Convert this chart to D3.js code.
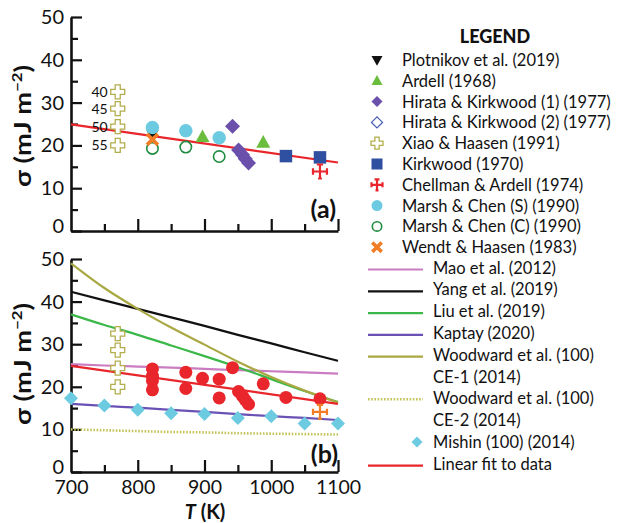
<!DOCTYPE html>
<html><head><meta charset="utf-8">
<script src="https://cdn.jsdelivr.net/npm/d3@7"></script>
<style>body{margin:0;background:#fff} svg{display:block} text{font-family:Lato,"Open Sans",sans-serif;fill:#111}</style>
</head><body><svg id="c" width="633" height="523"></svg>
<script>
// ---------- data ----------
const plotnikov = [[822,22.5]];
const ardell    = [[897,22.0],[988,20.7]];
const hirata1   = [[942,24.5],[951,18.9],[957,17.8],[961,16.9],[966,15.9]];
const hirata2   = [];
const xiao      = [[770,32.5],[770,28.6],[770,24.4],[770,20.0]];
const xiaoLabels = ["40","45","50","55"];
const kirkwood  = [[1022,17.5],[1073,17.2]];
const chellman  = [[1073,13.9]];
const marshS    = [[822,24.2],[872,23.4],[922,21.8]];
const marshC    = [[822,19.3],[872,19.6],[922,17.4]];
const wendt     = [[822,21.4]];

const modelT = [700,750,800,850,900,950,1000,1050,1100];
const mao    = [25.3,25.0,24.75,24.5,24.2,23.9,23.65,23.4,23.1];
const yang   = [42.3,40.3,38.3,36.3,34.3,32.2,30.2,28.1,26.1];
const liu    = [37.0,34.5,32.2,29.7,27.2,24.6,21.8,19.0,16.4];
const kaptay = [16.0,15.5,15.1,14.6,14.1,13.6,13.1,12.7,12.2];
const ce1    = [49.0,43.2,38.3,33.9,29.9,25.9,22.3,19.1,16.3];
const ce2    = [10.0,9.8,9.6,9.4,9.3,9.1,9.0,8.9,8.8];
const mishin = [17.3,15.6,14.6,13.8,13.6,12.7,13.1,11.4,11.4];
const linearFit = [[700,24.9],[1100,16.0]];

const xMajor = [800,900,1000,1100];
const xMinor = [750,850,950,1050];
const xLabels = [700,800,900,1000,1100];
const yMajor = [0,10,20,30,40,50];
const yMinor = [5,15,25,35,45];

const legendTop = [
  ["Plotnikov et al. (2019)","tridown"],["Ardell (1968)","triup"],
  ["Hirata & Kirkwood (1) (1977)","diamond"],["Hirata & Kirkwood (2) (1977)","odiamond"],
  ["Xiao & Haasen (1991)","ocross"],["Kirkwood (1970)","square"],
  ["Chellman & Ardell (1974)","scross"],["Marsh & Chen (S) (1990)","circle"],
  ["Marsh & Chen (C) (1990)","ocircle"],["Wendt & Haasen (1983)","xcross"]];
const legendBottom = [
  ["Mao et al. (2012)","line","#c97cc2"],["Yang et al. (2019)","line","#111"],
  ["Liu et al. (2019)","line","#3cb84a"],["Kaptay (2020)","line","#6a52b4"],
  ["Woodward et al. (100)","line","#a9a842"],["CE-1 (2014)","none",""],
  ["Woodward et al. (100)","dot","#c4c45a"],["CE-2 (2014)","none",""],
  ["Mishin (100) (2014)","mdiamond","#6ccbe0"],["Linear fit to data","line","#e8262b"]];

// ---------- styles ----------
const C = {red:"#e8262b", cyan:"#6ccbe0", tri:"#6bbd3e", purple:"#6a50aa", blue:"#2f4fa0",
  orange:"#f27d27", ogreen:"#1f8c40", olive:"#b3ae4c", black:"#111"};

const svg = d3.select("#c");
const x = d3.scaleLinear().domain([700,1100]).range([71,338]);
const yT = d3.scaleLinear().domain([0,50]).range([231,17]);
const yB = d3.scaleLinear().domain([0,50]).range([472,259]);

function marker(g, type, cx, cy, s, color){
  const h = s/2;
  if(type==="circle"){ g.append("circle").attr("cx",cx).attr("cy",cy).attr("r",h).attr("fill",color); }
  else if(type==="ocircle"){ g.append("circle").attr("cx",cx).attr("cy",cy).attr("r",h-0.8).attr("fill","#fff").attr("stroke",color).attr("stroke-width",1.6); }
  else if(type==="triup"){ g.append("path").attr("d",`M${cx},${cy-h*1.05}L${cx+h},${cy+h*0.75}L${cx-h},${cy+h*0.75}Z`).attr("fill",color); }
  else if(type==="tridown"){ g.append("path").attr("d",`M${cx},${cy+h*1.05}L${cx+h},${cy-h*0.75}L${cx-h},${cy-h*0.75}Z`).attr("fill",color); }
  else if(type==="diamond"||type==="mdiamond"){ g.append("path").attr("d",`M${cx},${cy-h}L${cx+h},${cy}L${cx},${cy+h}L${cx-h},${cy}Z`).attr("fill",color); }
  else if(type==="odiamond"){ g.append("path").attr("d",`M${cx},${cy-h}L${cx+h},${cy}L${cx},${cy+h}L${cx-h},${cy}Z`).attr("fill","#fff").attr("stroke",color).attr("stroke-width",1.3); }
  else if(type==="square"){ g.append("rect").attr("x",cx-h).attr("y",cy-h).attr("width",s).attr("height",s).attr("fill",color); }
  else if(type==="ocross"){
    const a=h, b=h*0.36;
    g.append("path").attr("d",`M${cx-b},${cy-a}H${cx+b}V${cy-b}H${cx+a}V${cy+b}H${cx+b}V${cy+a}H${cx-b}V${cy+b}H${cx-a}V${cy-b}H${cx-b}Z`)
      .attr("fill","#fff").attr("stroke",color).attr("stroke-width",1.3);
  }
  else if(type==="scross"){
    const a=h, w=h*0.45;
    g.append("path").attr("d",`M${cx-a},${cy}H${cx+a}M${cx},${cy-a}V${cy+a}M${cx-a},${cy-w}V${cy+w}M${cx+a},${cy-w}V${cy+w}M${cx-w},${cy-a}H${cx+w}M${cx-w*0.6},${cy+a}H${cx+w*0.6}`)
      .attr("stroke",color).attr("stroke-width",2.2).attr("fill","none");
  }
  else if(type==="xcross"){
    const a=h*0.78;
    g.append("path").attr("d",`M${cx-a},${cy-a}L${cx+a},${cy+a}M${cx-a},${cy+a}L${cx+a},${cy-a}`)
      .attr("stroke",color).attr("stroke-width",3.6).attr("stroke-linecap","butt");
  }
}

function axes(y, withXLabels){
  const g = svg.append("g");
  const ya = g.append("g").attr("transform",`translate(${x(700)},0)`)
    .call(d3.axisLeft(y).tickValues(yMajor).tickSize(-11).tickSizeOuter(0).tickPadding(7));
  ya.selectAll("text").attr("font-size",20).attr("font-family","Lato").attr("fill","#111")
    .attr("dy", d=> d===0 ? "0.05em" : "0.32em");
  g.append("g").attr("transform",`translate(${x(700)},0)`)
    .call(d3.axisLeft(y).tickValues(yMinor).tickSize(-7).tickSizeOuter(0).tickFormat(""))
    .select(".domain").remove();
  g.append("g").attr("transform",`translate(0,${y(0)})`)
    .call(d3.axisBottom(x).tickValues(xMajor).tickSize(-12).tickSizeOuter(0).tickFormat(""));
  g.append("g").attr("transform",`translate(0,${y(0)})`)
    .call(d3.axisBottom(x).tickValues(xMinor).tickSize(-7).tickSizeOuter(0).tickFormat(""))
    .select(".domain").remove();
  if(withXLabels){
    const xl = g.append("g").attr("transform",`translate(0,${y(0)})`)
      .call(d3.axisBottom(x).tickValues(xLabels).tickSize(0).tickPadding(8).tickFormat(d3.format("d")));
    xl.select(".domain").remove();
    xl.selectAll("text").attr("font-size",19.5).attr("font-family","Lato").attr("fill","#111");
  }
  g.selectAll(".domain").attr("stroke","#111").attr("stroke-width",2.6);
  g.selectAll(".tick line").attr("stroke","#111").attr("stroke-width",2.2);
  return g;
}

function yTitle(cy){
  const t = svg.append("text").attr("transform",`translate(31,${cy}) rotate(-90)`)
    .attr("text-anchor","middle").attr("font-size",23).attr("font-weight",700)
    .attr("textLength",122).attr("lengthAdjust","spacingAndGlyphs");
  t.append("tspan").text("σ (mJ m");
  t.append("tspan").attr("font-size",14).attr("dy",-9).text("−2");
  t.append("tspan").attr("dy",9).text(")");
}

const line = (y)=> d3.line().x(d=>x(d[0])).y(d=>y(d[1])).curve(d3.curveMonotoneX);
const zip = (vals)=> modelT.map((t,i)=>[t,vals[i]]);

// ================= TOP PANEL =================
axes(yT,false);
yTitle(126);
const gt = svg.append("g");
gt.append("path").datum(linearFit).attr("d",line(yT)).attr("fill","none").attr("stroke",C.red).attr("stroke-width",2.2);
xiao.forEach((d,i)=>{
  marker(gt,"ocross",x(d[0]),yT(d[1]),14,C.olive);
  gt.append("text").attr("x",x(d[0])-10).attr("y",yT(d[1])+5).attr("text-anchor","end").attr("font-size",14).text(xiaoLabels[i]);
});
marshC.forEach(d=>marker(gt,"ocircle",x(d[0]),yT(d[1]),13,C.ogreen));
plotnikov.forEach(d=>marker(gt,"tridown",x(d[0]),yT(d[1]),12,C.black));
marshS.forEach(d=>marker(gt,"circle",x(d[0]),yT(d[1]),13.5,C.cyan));
wendt.forEach(d=>marker(gt,"xcross",x(d[0]),yT(d[1]),14,C.orange));
ardell.forEach(d=>marker(gt,"triup",x(d[0]),yT(d[1]),14,C.tri));
hirata1.forEach(d=>marker(gt,"diamond",x(d[0]),yT(d[1]),15,C.purple));
hirata2.forEach(d=>marker(gt,"odiamond",x(d[0]),yT(d[1]),15,C.blue));
kirkwood.forEach(d=>marker(gt,"square",x(d[0]),yT(d[1]),12.5,C.blue));
chellman.forEach(d=>marker(gt,"scross",x(d[0]),yT(d[1]),14,C.red));
svg.append("text").attr("x",336).attr("y",218).attr("text-anchor","end").attr("font-family","'Liberation Serif','DejaVu Serif',serif")
  .attr("font-weight",700).attr("font-size",25).text("(a)");

// ================= BOTTOM PANEL =================
axes(yB,true);
yTitle(364);
const gb = svg.append("g");
const series = [[mao,"#c97cc2"],[yang,"#111"],[liu,"#3cb84a"],[kaptay,"#6a52b4"],[ce1,"#a9a842"]];
series.forEach(([v,c])=>gb.append("path").datum(zip(v)).attr("d",line(yB)).attr("fill","none").attr("stroke",c).attr("stroke-width",2.2));
gb.append("path").datum(zip(ce2)).attr("d",line(yB)).attr("fill","none").attr("stroke","#c4c45a").attr("stroke-width",2.6).attr("stroke-dasharray","1.6,1.6");
gb.append("path").datum(linearFit).attr("d",line(yB)).attr("fill","none").attr("stroke",C.red).attr("stroke-width",2.2);
zip(mishin).forEach(d=>marker(gb,"mdiamond",x(d[0]),yB(d[1]),14,C.cyan));
xiao.forEach(d=>marker(gb,"ocross",x(d[0]),yB(d[1]),14,C.olive));
const expAll = [].concat(plotnikov,ardell,hirata1,hirata2,kirkwood,marshS,marshC,wendt);
expAll.forEach(d=>marker(gb,"circle",x(d[0]),yB(d[1]),13,C.red));
chellman.forEach(d=>marker(gb,"scross",x(d[0]),yB(d[1]+0.2),14,C.orange));
svg.append("text").attr("x",338).attr("y",463).attr("text-anchor","end").attr("font-family","'Liberation Serif','DejaVu Serif',serif")
  .attr("font-weight",700).attr("font-size",25).text("(b)");

const xt = svg.append("text").attr("x",205).attr("y",518.5).attr("text-anchor","middle").attr("font-size",20).attr("font-weight",700);
xt.append("tspan").attr("font-style","italic").text("T");
xt.append("tspan").text(" (K)");

// ================= LEGEND =================
const lg = svg.append("g");
lg.append("text").attr("x",495).attr("y",43).attr("text-anchor","middle").attr("font-size",18).attr("font-weight",900).text("LEGEND");
const topColors = {tridown:C.black, triup:C.tri, diamond:C.purple, odiamond:"#4a5fb4", ocross:C.olive, square:C.blue, scross:C.red, circle:C.cyan, ocircle:C.ogreen, xcross:C.orange};
legendTop.forEach(([name,type],i)=>{
  const cy = 60 + i*20.8;
  marker(lg,type,377,cy,type==="ocross"?12:(type==="xcross"?12:11),topColors[type]);
  lg.append("text").attr("x",402).attr("y",cy+6).attr("font-size",16.5).text(name);
});
legendBottom.forEach(([name,type,color],i)=>{
  const cy = 267.5 + i*21.8;
  if(type==="line") lg.append("line").attr("x1",368).attr("x2",423).attr("y1",cy+2).attr("y2",cy+2).attr("stroke",color).attr("stroke-width",2.2);
  if(type==="dot") lg.append("line").attr("x1",368).attr("x2",423).attr("y1",cy+1).attr("y2",cy+1).attr("stroke",color).attr("stroke-width",2.6).attr("stroke-dasharray","1.6,1.6");
  if(type==="mdiamond") marker(lg,"mdiamond",417,cy,11,color);
  lg.append("text").attr("x",433).attr("y",cy+6).attr("font-size",16.5).text(name);
});
</script></body></html>
